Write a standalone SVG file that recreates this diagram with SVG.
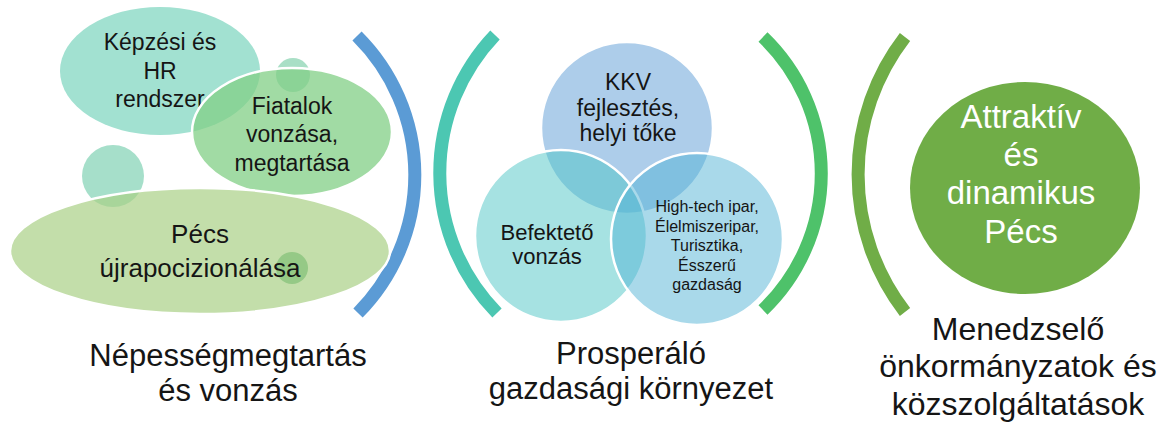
<svg xmlns="http://www.w3.org/2000/svg" width="1162" height="426" viewBox="0 0 1162 426">
<style>
text{font-family:"Liberation Sans",Arial,sans-serif;fill:#151515;text-anchor:middle}
.t23{font-size:23px}
.t22{font-size:22px}
.t26{font-size:26px}
.t16{font-size:16px}
.big{font-size:31px}
.wht{fill:#ffffff;font-size:33px}
.arc{fill:none;stroke-width:13;stroke-linecap:butt}
.ws{stroke:#ffffff;stroke-width:2.5}
</style>
<rect width="1162" height="426" fill="#ffffff"/>

<g id="brackets">
<path class="arc" stroke="#5b9bd5" d="M357 36 A196 196 0 0 1 358 313"/>
<path class="arc" stroke="#4cc7b2" d="M495 35 A200 200 0 0 0 497 313"/>
<path class="arc" stroke="#4ec26a" d="M763 37 A189 189 0 0 1 763 310"/>
<path class="arc" stroke="#70ad47" d="M905 37 A225 225 0 0 0 905 312"/>
</g>

<g id="node-kepzesi">
<ellipse cx="160" cy="71" rx="100" ry="64" fill="#a2e1d1"/>
<text class="t23" x="160" y="50">Képzési és</text>
<text class="t23" x="160" y="78.5">HR</text>
<text class="t23" x="160" y="107">rendszer</text>
</g>

<g id="node-bubble-top">
<circle cx="293" cy="75" r="17" fill="#a9dfc6"/>
</g>

<g id="node-fiatalok">
<ellipse cx="292" cy="132" rx="100" ry="64" fill="#82cf85" fill-opacity="0.75" class="ws"/>
<text class="t23" x="292" y="113.5">Fiatalok</text>
<text class="t23" x="292" y="142">vonzása,</text>
<text class="t23" x="292" y="170.5">megtartása</text>
</g>

<g id="node-bubble-left">
<circle cx="113" cy="176" r="31" fill="#a6dfca"/>
</g>

<g id="node-pecs">
<ellipse cx="200" cy="251" rx="190" ry="63" fill="#a9d086" fill-opacity="0.7" class="ws"/>
<circle cx="292" cy="268" r="16" fill="#70b868" fill-opacity="0.55"/>
<text class="t26" x="200" y="243">Pécs</text>
<text class="t26" x="200" y="277">újrapocizionálása</text>
</g>

<g id="node-kkv">
<circle cx="627" cy="128" r="86" fill="#5b9bd5" fill-opacity="0.5" class="ws"/>
</g>
<g id="node-befekteto">
<circle cx="561" cy="236" r="86" fill="#4dc6c6" fill-opacity="0.5" class="ws"/>
</g>
<g id="node-hightech">
<circle cx="697" cy="239" r="86" fill="#53b3d5" fill-opacity="0.5" class="ws"/>
</g>
<g id="venn-labels">
<text class="t23" x="628" y="90">KKV</text>
<text class="t23" x="628" y="116">fejlesztés,</text>
<text class="t23" x="628" y="141">helyi tőke</text>
<text class="t22" x="547" y="240">Befektető</text>
<text class="t22" x="547" y="264">vonzás</text>
<text class="t16" x="707" y="212">High-tech ipar,</text>
<text class="t16" x="707" y="231.5">Élelmiszeripar,</text>
<text class="t16" x="707" y="251">Turisztika,</text>
<text class="t16" x="707" y="270.5">Ésszerű</text>
<text class="t16" x="707" y="290">gazdaság</text>
</g>

<g id="node-attraktiv">
<ellipse cx="1025" cy="188" rx="115" ry="106" fill="#70ad47"/>
<text class="wht" x="1021" y="128">Attraktív</text>
<text class="wht" x="1021" y="166">és</text>
<text class="wht" x="1021" y="204">dinamikus</text>
<text class="wht" x="1021" y="243">Pécs</text>
</g>

<g id="label-nepesseg">
<text class="big" x="228" y="366">Népességmegtartás</text>
<text class="big" x="228" y="401">és vonzás</text>
</g>
<g id="label-prosperalo">
<text class="big" x="631" y="364">Prosperáló</text>
<text class="big" x="631" y="399">gazdasági környezet</text>
</g>
<g id="label-menedzselo">
<text class="big" x="1018" y="340" style="font-size:32px">Menedzselő</text>
<text class="big" x="1018" y="377" style="font-size:32px">önkormányzatok és</text>
<text class="big" x="1018" y="415" style="font-size:32px">közszolgáltatások</text>
</g>
</svg>
